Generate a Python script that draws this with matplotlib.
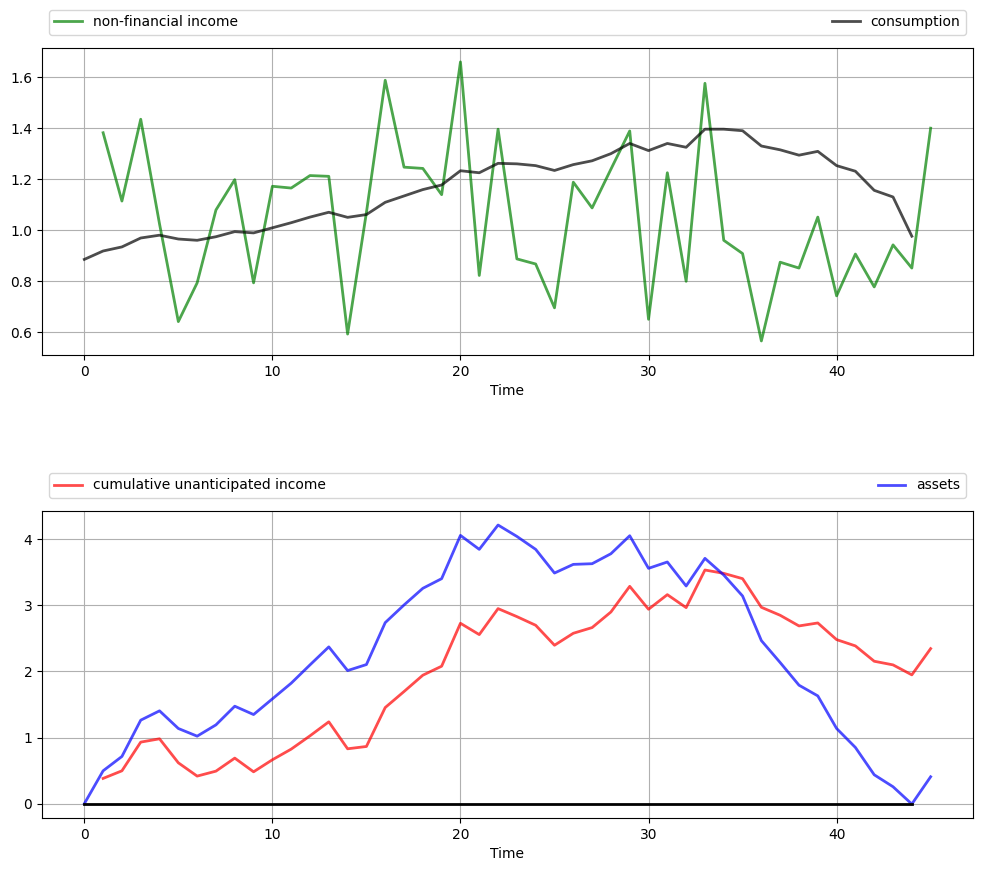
import matplotlib
matplotlib.use("Agg")
import matplotlib.pyplot as plt
import numpy as np

income = [1.383, 1.115, 1.436, 1.025, 0.642, 0.794, 1.080, 1.199, 0.794, 1.173,
          1.166, 1.215, 1.212, 0.593, 1.07, 1.589, 1.248, 1.243, 1.140, 1.661,
          0.823, 1.397, 0.888, 0.868, 0.696, 1.189, 1.088, 1.24, 1.390, 0.651,
          1.226, 0.800, 1.577, 0.961, 0.909, 0.566, 0.875, 0.852, 1.052, 0.743,
          0.907, 0.778, 0.943, 0.852, 1.401]
consumption = [0.886, 0.919, 0.935, 0.970, 0.981, 0.966, 0.961, 0.975, 0.995, 0.990,
               1.010, 1.030, 1.052, 1.071, 1.051, 1.062, 1.110, 1.135, 1.160, 1.178,
               1.234, 1.226, 1.263, 1.261, 1.254, 1.235, 1.258, 1.273, 1.301, 1.341,
               1.313, 1.341, 1.326, 1.397, 1.397, 1.391, 1.331, 1.316, 1.295, 1.310,
               1.254, 1.232, 1.157, 1.131, 0.977]
assets = [0.0, 0.498, 0.715, 1.264, 1.405, 1.138, 1.022, 1.193, 1.475, 1.349,
          1.586, 1.823, 2.100, 2.372, 2.014, 2.105, 2.739, 3.006, 3.258, 3.404,
          4.058, 3.847, 4.215, 4.043, 3.847, 3.489, 3.620, 3.630, 3.781, 4.053,
          3.560, 3.656, 3.293, 3.711, 3.459, 3.142, 2.467, 2.135, 1.793, 1.631,
          1.138, 0.851, 0.438, 0.257, -0.005, 0.408]
cum_unanticipated = [0.383, 0.498, 0.932, 0.982, 0.619, 0.418, 0.493, 0.690, 0.483, 0.665,
                     0.826, 1.027, 1.239, 0.831, 0.866, 1.455, 1.697, 1.944, 2.080, 2.729,
                     2.558, 2.951, 2.830, 2.699, 2.397, 2.578, 2.664, 2.900, 3.288, 2.941,
                     3.162, 2.966, 3.535, 3.484, 3.404, 2.971, 2.850, 2.689, 2.734, 2.482,
                     2.387, 2.155, 2.100, 1.949, 2.346]

t_income = np.arange(1, len(income) + 1)
t_cons = np.arange(0, len(consumption))
t_assets = np.arange(0, len(assets))
t_cum = np.arange(1, len(cum_unanticipated) + 1)

fig = plt.figure(figsize=(9.81, 8.72), dpi=100)
ax1 = fig.add_axes([0.0428, 0.593, 0.949, 0.352])
ax2 = fig.add_axes([0.0428, 0.0619, 0.949, 0.352])

ax1.plot(t_income, income, 'g-', lw=2, alpha=0.7, label='non-financial income')
ax1.plot(t_cons, consumption, 'k-', lw=2, alpha=0.7, label='consumption')

ax2.plot(t_cum, cum_unanticipated, 'r-', lw=2, alpha=0.7, label='cumulative unanticipated income')
ax2.plot(t_assets, assets, 'b-', lw=2, alpha=0.7, label='assets')
ax2.plot(t_cons, np.zeros(len(t_cons)), 'k-', lw=2)

for ax in (ax1, ax2):
    ax.grid(True)
    ax.set_xlabel('Time')
    ax.legend(ncol=2, bbox_to_anchor=(0., 1.02, 1., .102), loc='lower left',
              mode='expand')

fig.savefig('out.png', dpi=100)
